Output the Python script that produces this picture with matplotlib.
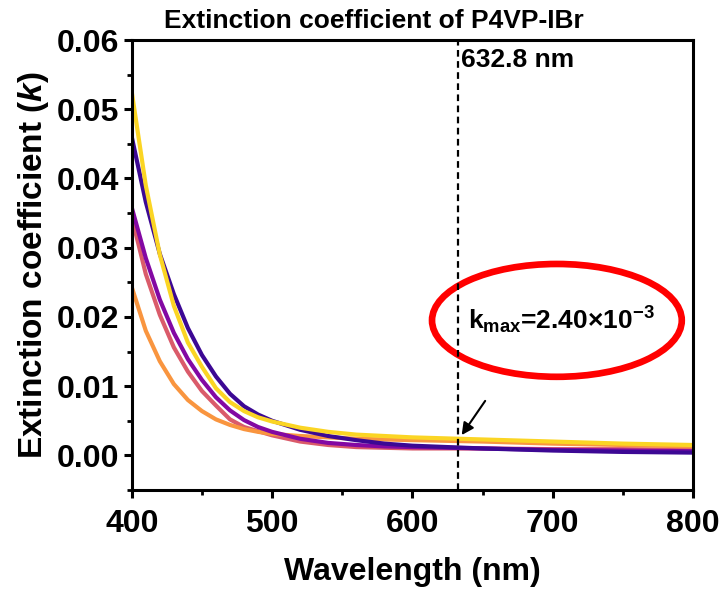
import matplotlib
matplotlib.use("Agg")
import matplotlib.pyplot as plt
from matplotlib.patches import Ellipse
from matplotlib.ticker import MultipleLocator, FormatStrFormatter

plt.rcParams["font.family"] = ["Liberation Sans", "DejaVu Sans"]
plt.rcParams["font.weight"] = "bold"
plt.rcParams["mathtext.fontset"] = "custom"
plt.rcParams["mathtext.rm"] = "Liberation Sans:bold"
plt.rcParams["mathtext.bf"] = "Liberation Sans:bold"
plt.rcParams["mathtext.it"] = "Liberation Sans:italic:bold"
plt.rcParams["mathtext.default"] = "bf"

# wavelength grid (nm) and k values
wavelength = [400, 410, 420, 430, 440, 450, 460, 470, 480, 490, 500,
              520, 540, 560, 580, 600, 650, 700, 750, 800]

k_indigo = [0.0460, 0.0366, 0.0291, 0.0233, 0.0184, 0.0145, 0.0114, 0.0089, 0.0071, 0.0059, 0.0050,
            0.0037, 0.0028, 0.0022, 0.0017, 0.0014, 0.0010, 0.0007, 0.0005, 0.0004]
k_purple = [0.0358, 0.0285, 0.0225, 0.0177, 0.0139, 0.0109, 0.0084, 0.0065, 0.0051, 0.0041, 0.0034,
            0.0024, 0.0018, 0.0015, 0.0013, 0.0012, 0.0010, 0.0008, 0.0007, 0.0006]
k_pink = [0.0344, 0.0262, 0.0203, 0.0156, 0.0121, 0.0093, 0.0072, 0.0052, 0.0041, 0.0035, 0.0029,
          0.0020, 0.0015, 0.0012, 0.0011, 0.0010, 0.0010, 0.0009, 0.0009, 0.0008]
k_orange = [0.0243, 0.0180, 0.0136, 0.0103, 0.0080, 0.0064, 0.0052, 0.0044, 0.0038, 0.0034, 0.0031,
            0.0028, 0.0026, 0.0024, 0.0023, 0.0022, 0.0020, 0.0017, 0.0015, 0.0013]
k_yellow = [0.0525, 0.0390, 0.0290, 0.0216, 0.0163, 0.0128, 0.0097, 0.0077, 0.0064, 0.0055, 0.0049,
            0.0040, 0.0034, 0.0030, 0.0028, 0.0026, 0.0023, 0.0020, 0.0017, 0.0015]

series = [
    (k_pink, "#da5b6a"),
    (k_orange, "#f9953f"),
    (k_purple, "#8308a3"),
    (k_indigo, "#3c0894"),
    (k_yellow, "#fbd524"),
]

fig = plt.figure(figsize=(7.2, 5.93), dpi=100)
ax = fig.add_axes([0.183, 0.1737, 0.7795, 0.7588])

for k, c in series:
    ax.plot(wavelength, k, color=c, lw=3.0, solid_capstyle="butt")

ax.set_xlim(400, 800)
ax.set_ylim(-0.005, 0.06)
ax.xaxis.set_major_locator(MultipleLocator(100))
ax.xaxis.set_minor_locator(MultipleLocator(50))
ax.yaxis.set_major_locator(MultipleLocator(0.01))
ax.yaxis.set_minor_locator(MultipleLocator(0.005))
ax.yaxis.set_major_formatter(FormatStrFormatter("%.2f"))
ax.tick_params(which="major", direction="out", length=6, width=2.2, labelsize=23, pad=3)
ax.tick_params(axis="x", which="major", pad=8)
ax.tick_params(which="minor", direction="out", length=3.5, width=2.0)
for s in ax.spines.values():
    s.set_linewidth(2.2)

# 632.8 nm marker
ax.axvline(632.8, color="black", lw=1.6, ls=(0, (3, 2)))
ax.text(635, 0.0571, "632.8 nm", fontsize=19, fontweight="bold", va="center", ha="left")

ax.annotate("", xy=(634, 0.0026), xytext=(653, 0.0082),
            arrowprops=dict(arrowstyle="-|>", color="black", lw=1.5, mutation_scale=18))

ell = Ellipse((703, 0.0195), 178, 0.0163, fill=False, edgecolor="#ff0000", lw=4.8)
ax.add_patch(ell)
ax.text(706, 0.0195, r"k$_{max}$=2.40×10$^{-3}$", fontsize=19, ha="center", va="center")

ax.set_xlabel("Wavelength (nm)", fontsize=23, fontweight="bold")
ax.xaxis.set_label_coords(0.5, -0.15)
fig.text(0.046, 1 - 265 / 593, r"Extinction coefficient ($\mathit{k}$)", rotation=90,
         fontsize=24, fontweight="bold", ha="center", va="center")
fig.text(374 / 720, 1 - 21 / 593, "Extinction coefficient of P4VP-IBr",
         fontsize=19, fontweight="bold", ha="center", va="center")

fig.savefig("out.png", dpi=100)
